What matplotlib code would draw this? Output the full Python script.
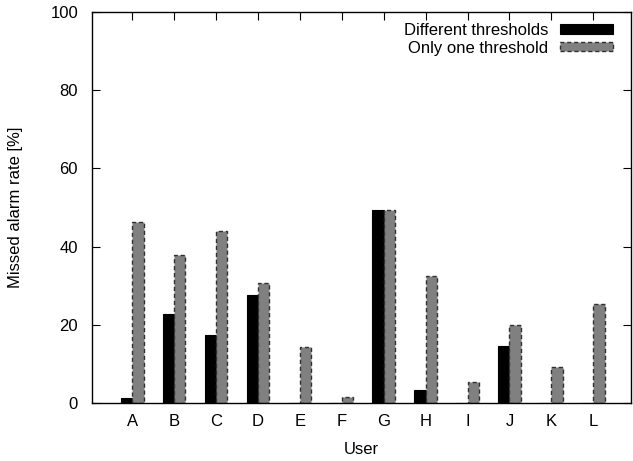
import numpy as np
import matplotlib.pyplot as plt

plt.rcParams["font.family"] = ["Liberation Sans", "DejaVu Sans"]
plt.rcParams["font.size"] = 12

# data
users = ["A", "B", "C", "D", "E", "F", "G", "H", "I", "J", "K", "L"]
different_thr = [1.2, 22.7, 17.3, 27.6, 0.0, 0.0, 49.4, 3.3, 0.0, 14.5, 0.0, 0.0]
one_thr = [46.4, 37.8, 44.0, 30.7, 14.4, 1.5, 49.4, 32.4, 5.3, 19.9, 9.2, 25.2]

x = np.arange(len(users))
width = 0.27

fig = plt.figure(figsize=(6.33, 4.61), dpi=100)
ax = fig.add_axes([92 / 633, 58 / 461, 539 / 633, 391 / 461])

ax.bar(x - width / 2, different_thr, width, color="black", edgecolor="black",
       linewidth=0.8, label="Different thresholds")
ax.bar(x + width / 2, one_thr, width, color="#808080", edgecolor="#303030",
       linewidth=1.0, linestyle=(0, (3, 2)), label="Only one threshold")

ax.set_xlim(-0.96, 11.9)
ax.set_ylim(0, 100)
ax.set_xticks(x)
ax.set_xticklabels(users)
ax.set_yticks(np.arange(0, 101, 20))
ax.tick_params(direction="in", top=True, right=True, length=6, width=0.8)
ax.tick_params(axis="x", bottom=False, pad=8)
ax.tick_params(axis="y", pad=10)
for s in ax.spines.values():
    s.set_linewidth(1.0)

ax.set_xlabel("User", labelpad=9)
ax.set_ylabel("Missed alarm rate [%]", labelpad=20)

ax.legend(loc="upper right", bbox_to_anchor=(1 - 18 / 539, 1 - 11 / 391),
          frameon=False, markerfirst=False, borderpad=0, borderaxespad=0,
          handlelength=3.2, handleheight=0.5, handletextpad=0.7,
          labelspacing=0.15, fontsize=12)

fig.savefig("out.png", dpi=100)
